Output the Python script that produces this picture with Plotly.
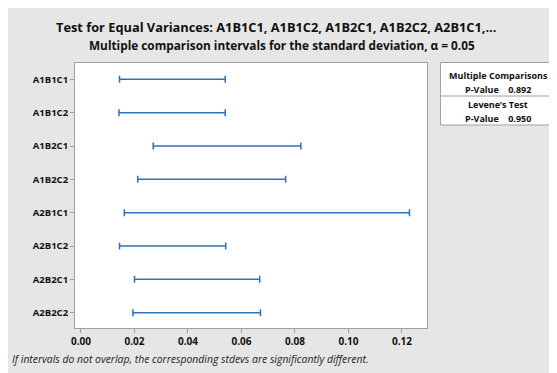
import plotly.graph_objects as go

groups = ["A1B1C1", "A1B1C2", "A1B2C1", "A1B2C2", "A2B1C1", "A2B1C2", "A2B2C1", "A2B2C2"]
lower = [0.0144, 0.0142, 0.0270, 0.0212, 0.0162, 0.0144, 0.0200, 0.0194]
upper = [0.0539, 0.0539, 0.0822, 0.0765, 0.1228, 0.0541, 0.0668, 0.0671]
x_ticks = [0.00, 0.02, 0.04, 0.06, 0.08, 0.10, 0.12]
mc_pvalue = "0.892"
levene_pvalue = "0.950"

# page offset caused by default body margin
OX, OY = 8, 8
W, H = 557 - OX, 373 - OY
# plot area in page pixels
L, R, T, B = 75, 427, 63, 328
ML, MR, MT, MB = L - OX, 557 - R, T - OY, 373 - B
PW, PH = R - L, B - T


def px(x):
    return (x - L) / PW


def py(y):
    return 1 - (y - T) / PH


mid = [(a + b) / 2 for a, b in zip(lower, upper)]
half = [(b - a) / 2 for a, b in zip(lower, upper)]

BLUE = "#3070b8"
GRAY_BG = "#e6e6e6"
FONT = "Open Sans"

fig = go.Figure()
fig.add_trace(go.Scatter(
    x=mid, y=groups, mode="markers",
    marker=dict(size=1, color="rgba(0,0,0,0)"),
    error_x=dict(type="data", array=half, symmetric=True, color=BLUE, thickness=1.5, width=3.5),
    hoverinfo="skip", showlegend=False,
))

annotations = [
    dict(text="<b>Test for Equal Variances: A1B1C1, A1B1C2, A1B2C1, A1B2C2, A2B1C1,...</b>",
         x=px(276), y=py(27), font=dict(size=12.8, color="#111")),
    dict(text="<b>Multiple comparison intervals for the standard deviation, α = 0.05</b>",
         x=px(282), y=py(45), font=dict(size=11.8, color="#111")),
    dict(text="<i>If intervals do not overlap, the corresponding stdevs are significantly different.</i>",
         x=px(10), y=py(359), xanchor="left", font=dict(size=10.4, color="#222")),
    dict(text="<b>Multiple Comparisons</b>", x=px(498), y=py(75), font=dict(size=9, color="#111")),
    dict(text="<b>P-Value    " + mc_pvalue + "</b>", x=px(498), y=py(89), font=dict(size=9, color="#111")),
    dict(text="<b>Levene’s Test</b>", x=px(498), y=py(104), font=dict(size=9, color="#111")),
    dict(text="<b>P-Value    " + levene_pvalue + "</b>", x=px(498), y=py(119), font=dict(size=9, color="#111")),
]
for a in annotations:
    a.update(xref="paper", yref="paper", showarrow=False)
    a.setdefault("xanchor", "center")
    a.setdefault("yanchor", "middle")

shapes = [
    dict(type="rect", xref="paper", yref="paper", x0=px(440.5), x1=px(554), y0=py(125), y1=py(62.5),
         fillcolor="white", line=dict(color="#a0a0a0", width=1), layer="below"),
    dict(type="line", xref="paper", yref="paper", x0=px(440.5), x1=px(554), y0=py(96), y1=py(96),
         line=dict(color="#a0a0a0", width=1)),
]

fig.update_layout(
    width=W, height=H,
    margin=dict(l=ML, r=MR, t=MT, b=MB, pad=0, autoexpand=False),
    paper_bgcolor=GRAY_BG, plot_bgcolor="white",
    font=dict(family=FONT, color="#111"),
    annotations=annotations, shapes=shapes,
    xaxis=dict(range=[-0.00224, 0.12935], tickvals=x_ticks,
               ticktext=["<b>%.2f</b>" % v for v in x_ticks],
               showgrid=False, zeroline=False, showline=True, mirror=True,
               linecolor="#a0a0a0", linewidth=1, ticks="outside", ticklen=4,
               tickcolor="#a0a0a0", tickfont=dict(size=10, color="#111")),
    yaxis=dict(type="category", categoryorder="array", categoryarray=groups,
               range=[7.46, -0.49], tickvals=groups,
               ticktext=["<b>%s</b>" % g for g in groups],
               showgrid=False, zeroline=False, showline=True, mirror=True,
               linecolor="#a0a0a0", linewidth=1, ticks="outside", ticklen=4,
               tickcolor="#a0a0a0", tickfont=dict(size=9.5, color="#111")),
)

fig.write_html("out.html")
